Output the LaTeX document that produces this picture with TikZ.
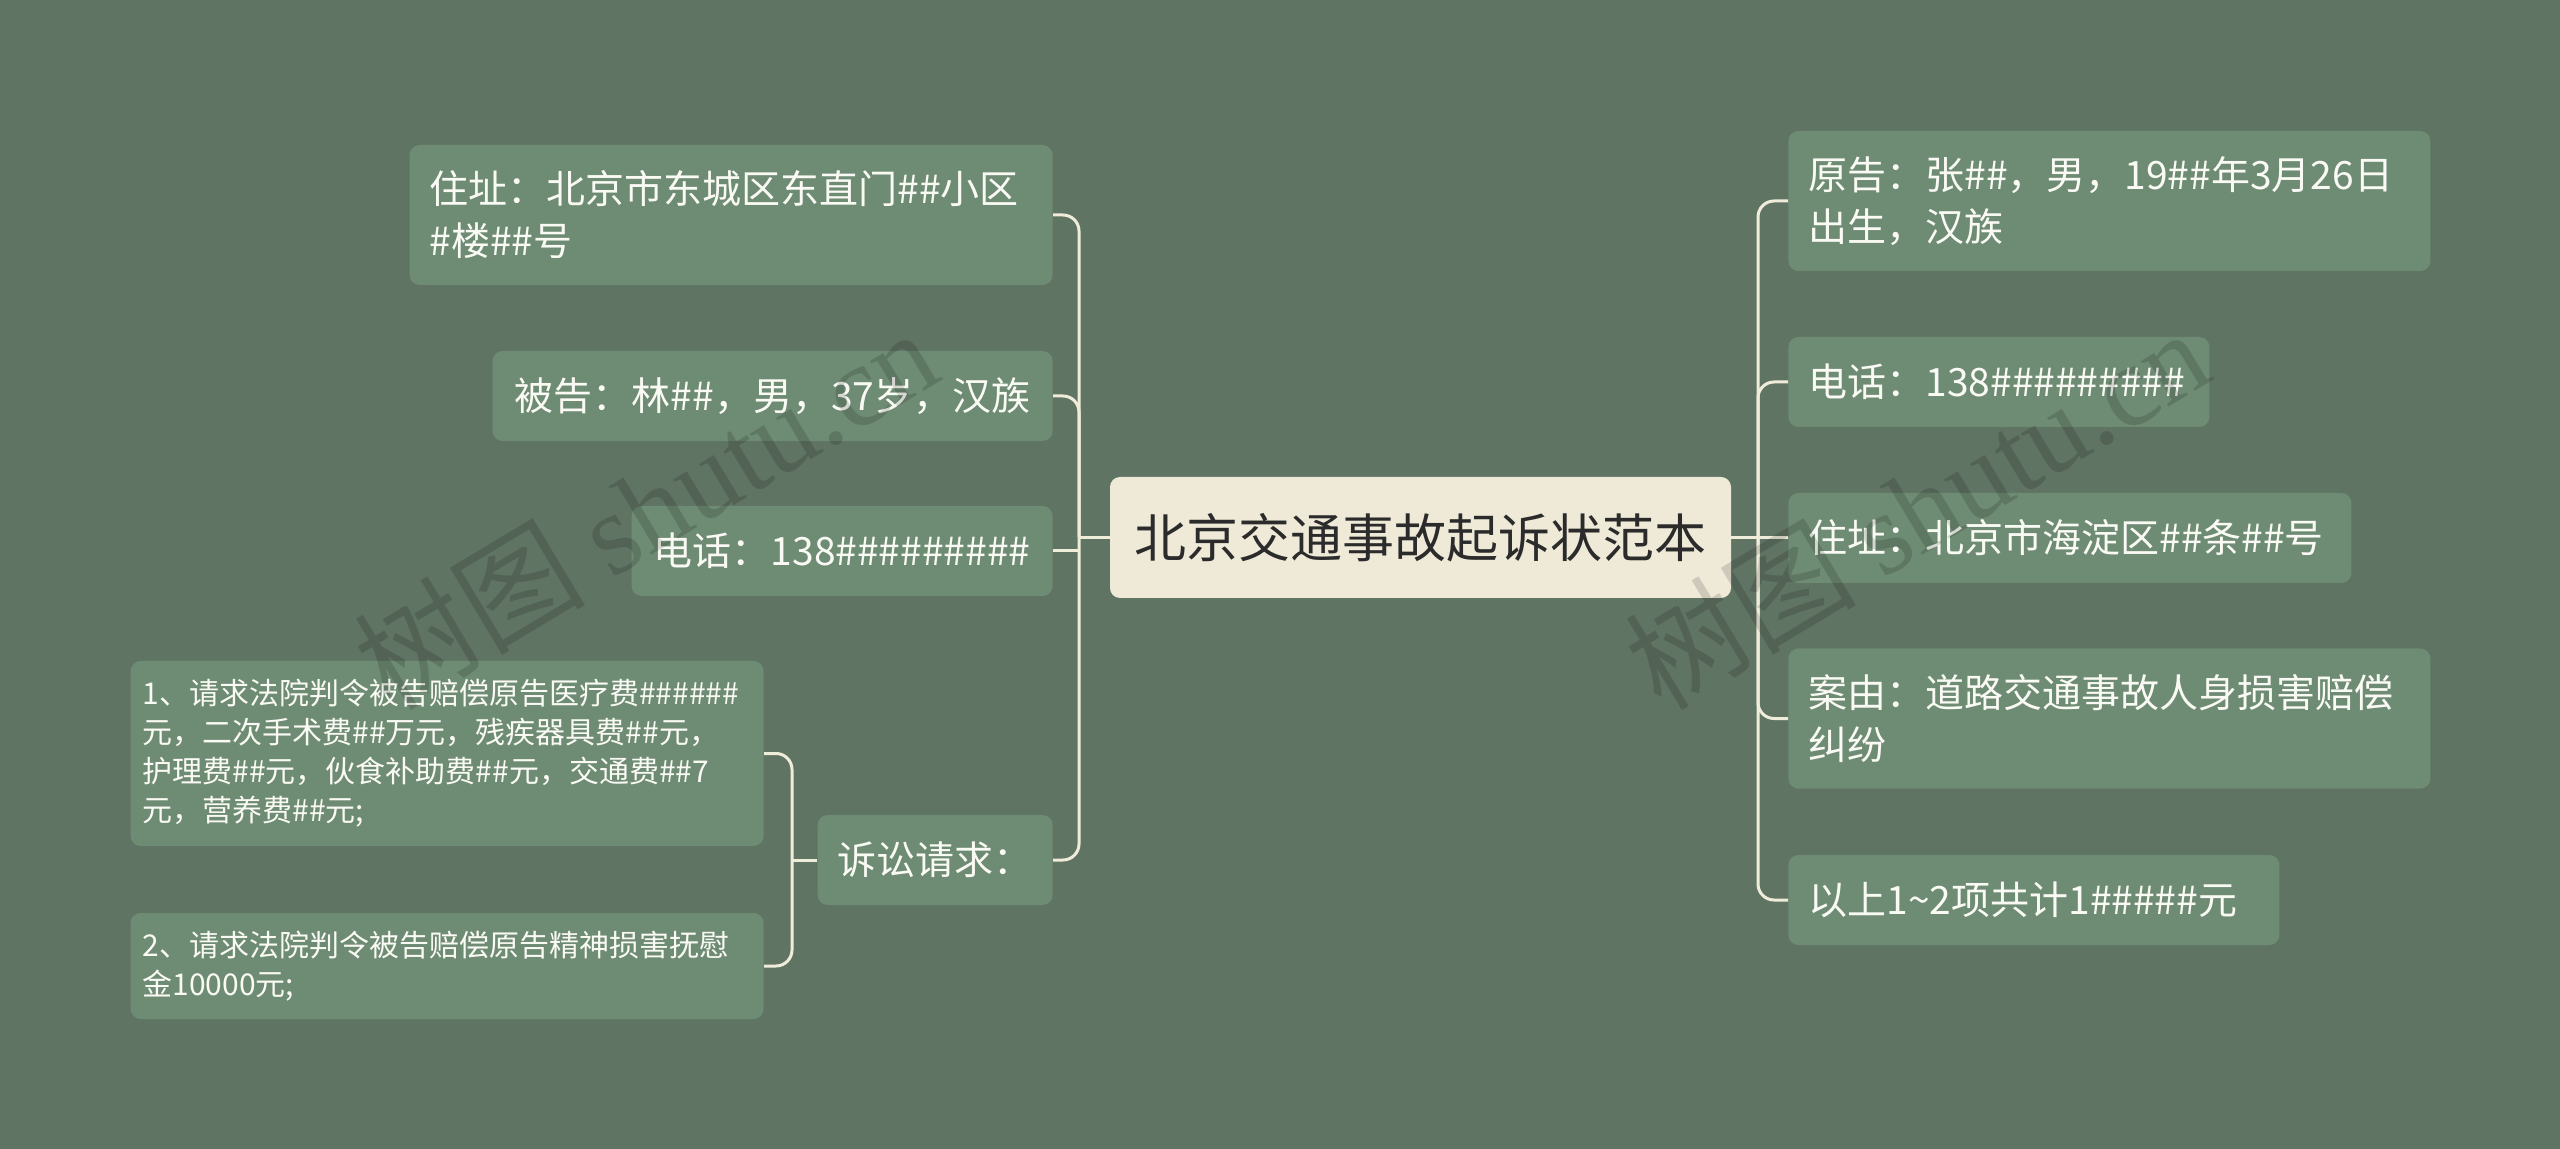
\documentclass[tikz,border=0pt]{standalone}
\usepackage{fontspec}
\setmainfont{Noto Sans CJK SC}
\newfontfamily\wmfont{Liberation Serif}
\definecolor{bgclr}{RGB}{96,116,100}
\definecolor{topicclr}{RGB}{110,139,116}
\definecolor{rootclr}{RGB}{239,234,216}
\definecolor{rootink}{RGB}{43,43,43}
\definecolor{inkclr}{RGB}{250,250,244}
\definecolor{lineclr}{RGB}{240,236,218}
\tikzset{
  root/.style={rectangle,fill=rootclr,text=rootink,rounded corners=5pt,
               minimum width=310.5pt,minimum height=60.5pt,inner sep=0pt,
               font=\fontsize{26}{32}\selectfont},
  topic/.style={rectangle,fill=topicclr,text=inkclr,rounded corners=5pt,
                minimum height=45pt,inner xsep=10pt,inner ysep=0pt,align=left,
                font=\fontsize{19.5}{26}\selectfont},
  topic2/.style={topic,minimum height=70pt},
  leaf/.style={topic,inner xsep=6pt,font=\fontsize{15}{19.5}\selectfont},
  link/.style={draw=lineclr,line width=1.5pt,rounded corners=8pt},
  wmark/.style={text=black,opacity=0.14,rotate=31,inner sep=0pt,
                font=\fontsize{58}{58}\selectfont},
}

\begin{document}
\begin{tikzpicture}[x=0.5pt,y=-0.5pt]
\fill[bgclr] (0,0) rectangle (2560,1149);
\useasboundingbox (0,0) rectangle (2560,1149);

% ── centre
\node[root] (root) at (1420.5,537.5) {北京交通事故起诉状范本};

% ── left branch
\node[topic2,anchor=east,text width=301.5pt] (addrL) at (1053,215)
  {住址：北京市东城区东直门\#\#小区\\\#楼\#\#号};
\node[topic,anchor=east,minimum width=280pt] (defL) at (1053,396) {被告：林\#\#，男，37岁，汉族};
\node[topic,anchor=east,minimum width=210.5pt] (telL) at (1053,551) {电话：138\#\#\#\#\#\#\#\#\#};
\node[topic,anchor=east,minimum width=116.5pt] (claimL) at (1053,860) {诉讼请求：};

% ── claims under 诉讼请求
\node[leaf,anchor=east,text width=304.5pt,minimum height=92.5pt] (req1) at (764,753.5)
  {1、请求法院判令被告赔偿原告医疗费\#\#\#\#\#\#\\
   元，二次手术费\#\#万元，残疾器具费\#\#元，\\
   护理费\#\#元，伙食补助费\#\#元，交通费\#\#7\\
   元，营养费\#\#元;};
\node[leaf,anchor=east,text width=304.5pt,minimum height=53pt] (req2) at (764,966)
  {2、请求法院判令被告赔偿原告精神损害抚慰\\金10000元;};

% ── right branch
\node[topic2,anchor=west,text width=301pt] (pltR) at (1788,201)
  {原告：张\#\#，男，19\#\#年3月26日\\出生，汉族};
\node[topic,anchor=west,text width=190.5pt] (telR) at (1788,382) {电话：138\#\#\#\#\#\#\#\#\#};
\node[topic,anchor=west,text width=261.5pt] (addrR) at (1788,538) {住址：北京市海淀区\#\#条\#\#号};
\node[topic2,anchor=west,text width=301pt] (causeR) at (1788,718.5)
  {案由：道路交通事故人身损害赔偿\\纠纷};
\node[topic,anchor=west,text width=225.5pt] (sumR) at (1788,900) {以上1\textasciitilde 2项共计1\#\#\#\#\#元};

% ── connectors
\coordinate (jL) at (1079,537.5);
\coordinate (jR) at (1758,537.5);
\coordinate (jC) at (792,860);
\draw[link] (root.west) -- (jL);
\draw[link] (root.east) -- (jR);
\foreach \n in {addrL,defL,claimL} \draw[link] (jL) |- (\n.east);
\draw[link] (telL.east) -- (telL.east -| jL);
\foreach \n in {pltR,telR,causeR,sumR} \draw[link] (jR) |- (\n.west);
\draw[link] (addrR.west) -- (addrR.west -| jR);
\draw[link] (claimL.west) -- (jC);
\foreach \n in {req1,req2} \draw[link] (jC) |- (\n.east);

% ── watermarks
\node[wmark] (wm1) at (645,508) {树图 {\wmfont shutu.cn}};
\node[wmark] (wm2) at (1916,508) {树图 {\wmfont shutu.cn}};
\end{tikzpicture}
\end{document}
